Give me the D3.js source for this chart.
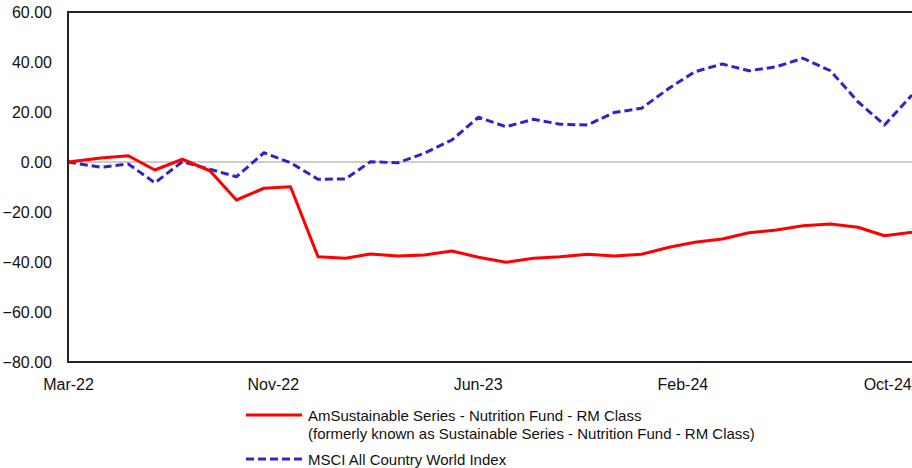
<!DOCTYPE html>
<html>
<head>
<meta charset="utf-8">
<script src="https://cdn.jsdelivr.net/npm/d3@7"></script>
<style>
  html, body { margin: 0; padding: 0; background: #fff; }
  svg { display: block; font-family: "Liberation Sans", Arial, sans-serif; }
</style>
</head>
<body>
<svg id="chart" width="912" height="468"></svg>
<script>
// ---- Data ----
const dates = [
  "2022-03-24","2022-04-30","2022-05-31","2022-06-30","2022-07-31","2022-08-31",
  "2022-09-30","2022-10-31","2022-11-30","2022-12-31","2023-01-31","2023-02-28",
  "2023-03-31","2023-04-30","2023-05-31","2023-06-30","2023-07-31","2023-08-31",
  "2023-09-30","2023-10-31","2023-11-30","2023-12-31","2024-01-31","2024-02-29",
  "2024-03-31","2024-04-30","2024-05-31","2024-06-30","2024-07-31","2024-08-31",
  "2024-09-30","2024-10-31"
];
const fundValues = [
  0.0, 1.6, 2.5, -3.2, 1.1, -3.5, -15.2, -10.5, -9.9, -37.9, -38.5, -36.8,
  -37.6, -37.2, -35.6, -38.1, -40.1, -38.5, -37.9, -36.9, -37.6, -36.9, -34.1, -32.1,
  -30.8, -28.3, -27.2, -25.5, -24.8, -26.1, -29.5, -28.1
];
const indexValues = [
  0.0, -2.1, -0.8, -8.3, 0.1, -2.9, -5.9, 3.7, -0.3, -6.9, -6.8, 0.1,
  -0.3, 3.5, 8.8, 17.9, 14.1, 17.1, 15.1, 14.8, 19.8, 21.5, 29.5, 36.1,
  39.2, 36.5, 38.1, 41.5, 36.5, 24.1, 14.8, 26.8
];
const xTickDates = ["2022-03-24","2022-11-10","2023-06-29","2024-02-15","2024-10-03"];
const xTickLabels = ["Mar-22","Nov-22","Jun-23","Feb-24","Oct-24"];
const yTicks = [60, 40, 20, 0, -20, -40, -60, -80];
const seriesNames = [
  ["AmSustainable Series - Nutrition Fund - RM Class",
   "(formerly known as Sustainable Series - Nutrition Fund - RM Class)"],
  ["MSCI All Country World Index"]
];
const seriesColors = ["#ff0000", "#3322cc"];

// ---- Layout ----
const svg = d3.select("#chart");
const mLeft = 68, mRight = 912, mTop = 12, mBottom = 362;
const parse = d3.timeParse("%Y-%m-%d");
const xDates = dates.map(parse);

const x = d3.scaleTime()
  .domain([xDates[0], xDates[xDates.length - 1]])
  .range([mLeft, mRight]);
const y = d3.scaleLinear().domain([-80, 60]).range([mBottom, mTop]);

// zero line
svg.append("line")
  .attr("x1", mLeft).attr("x2", mRight)
  .attr("y1", y(0)).attr("y2", y(0))
  .attr("stroke", "#bdbdbd").attr("stroke-width", 1.5);

// Y axis labels
const yAxis = d3.axisLeft(y).tickValues(yTicks).tickSize(0).tickPadding(16)
  .tickFormat(d3.format(".2f"));
const gy = svg.append("g").attr("transform", `translate(${mLeft},0)`).call(yAxis);
gy.select(".domain").remove();
gy.selectAll("text").attr("font-size", 16).attr("fill", "#111")
  .attr("font-family", "Liberation Sans, Arial, sans-serif");

// X axis labels
const tickMap = new Map(xTickDates.map((d, i) => [+parse(d), xTickLabels[i]]));
const xAxis = d3.axisBottom(x).tickValues(xTickDates.map(parse)).tickSize(0).tickPadding(17)
  .tickFormat(d => tickMap.get(+d));
const gx = svg.append("g").attr("transform", `translate(0,${mBottom})`).call(xAxis);
gx.select(".domain").remove();
gx.selectAll("text").attr("font-size", 16).attr("fill", "#111")
  .attr("font-family", "Liberation Sans, Arial, sans-serif");

// Lines
const line = d3.line().x((d, i) => x(xDates[i])).y(d => y(d));
svg.append("path").datum(indexValues)
  .attr("fill", "none").attr("stroke", seriesColors[1]).attr("stroke-width", 3)
  .attr("stroke-dasharray", "8,4").attr("stroke-linejoin", "round")
  .attr("d", line);
svg.append("path").datum(fundValues)
  .attr("fill", "none").attr("stroke", seriesColors[0]).attr("stroke-width", 3)
  .attr("stroke-linejoin", "round")
  .attr("d", line);

// Frame
svg.append("path")
  .attr("d", `M${mRight},${mTop}H${mLeft}V${mBottom}H${mRight}`)
  .attr("fill", "none").attr("stroke", "#222").attr("stroke-width", 2);

// Legend
const lg = svg.append("g").attr("font-size", 15).attr("fill", "#111");
const legendY = [415, 459];
seriesNames.forEach((lines, i) => {
  lg.append("line")
    .attr("x1", 246).attr("x2", 302)
    .attr("y1", legendY[i]).attr("y2", legendY[i])
    .attr("stroke", seriesColors[i]).attr("stroke-width", 3)
    .attr("stroke-dasharray", i === 1 ? "8,4" : null);
  lines.forEach((t, j) => {
    lg.append("text")
      .attr("x", 308).attr("y", legendY[i] + 5.5 + j * 18)
      .text(t);
  });
});
</script>
</body>
</html>
